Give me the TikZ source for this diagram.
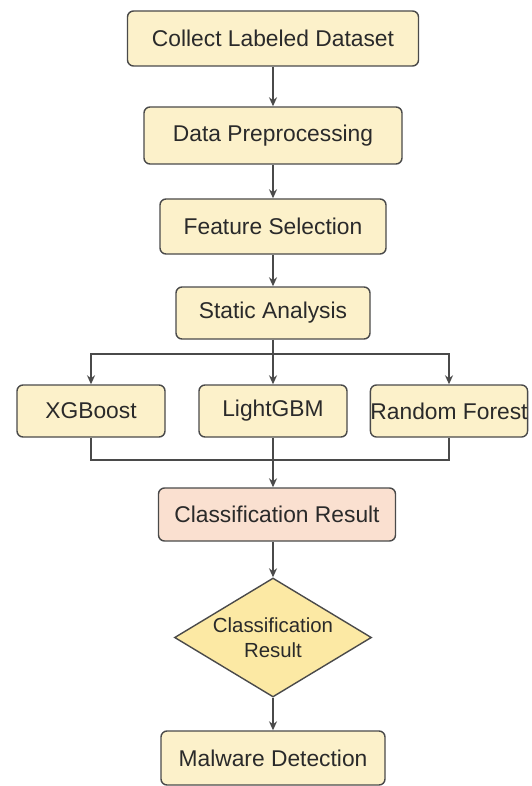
\documentclass[tikz,border=0pt]{standalone}
\usepackage{fontspec}
\setmainfont{Liberation Sans}
\usetikzlibrary{arrows.meta,shapes.geometric}
\definecolor{boxfill}{HTML}{FCF1CA}
\definecolor{peach}{HTML}{FAE0D0}
\definecolor{dfill}{HTML}{FCE9A4}
\definecolor{edge}{HTML}{4A4A4A}
\definecolor{txt}{HTML}{2A2A2A}
\tikzset{
  stepbox/.style={draw=edge, line width=1.4pt, fill=boxfill, rounded corners=6pt,
    inner sep=0pt, text=txt, font=\fontsize{22.8}{26}\selectfont},
  peachbox/.style={stepbox, fill=peach},
  decision/.style={diamond, draw=edge, line width=1.4pt, fill=dfill, inner sep=0pt,
    text=txt, font=\fontsize{20.4}{25}\selectfont, align=center, aspect=1.65},
  conn/.style={draw=edge, line width=1.4pt},
  arr/.style={conn, -{Stealth[length=9pt,width=8pt]}}
}
\begin{document}
\begin{tikzpicture}[x=1pt,y=-1pt]
\useasboundingbox (0,0) rectangle (531,786);
\node[stepbox, minimum width=291pt, minimum height=55pt] (c1) at (273,38.5) {Collect Labeled Dataset};
\node[stepbox, minimum width=258pt, minimum height=57pt] (c2) at (273,135.5) {Data Preprocessing};
\node[stepbox, minimum width=226pt, minimum height=55pt] (c3) at (273,226.5) {Feature Selection};
\node[stepbox, minimum width=194pt, minimum height=52pt] (c4) at (273,313) {Static Analysis};
\node[stepbox, minimum width=148pt, minimum height=52pt] (x1) at (91,411) {XGBoost};
\node[stepbox, minimum width=148pt, minimum height=52pt] (x2) at (273,411) {LightGBM};
\node[stepbox, minimum width=150pt, minimum height=52pt] (x3) at (449,411) {Random Forest};
\node[peachbox, minimum width=237pt, minimum height=53pt] (c5) at (277,514.5) {Classification Result};
\node[decision, minimum width=197pt, minimum height=119pt] (d) at (273,637.5) {Classification\\Result};
\node[stepbox, minimum width=224pt, minimum height=54pt] (c6) at (273,758) {Malware Detection};
\coordinate (split) at (273,354);
\coordinate (merge) at (273,460);
\draw[arr] (c1) -- (c2);
\draw[arr] (c2) -- (c3);
\draw[arr] (c3) -- (c4);
\draw[conn] (c4.south) -- (split);
\draw[arr] (split) -| (x1.north);
\draw[arr] (split) -| (x3.north);
\draw[arr] (split) -- (x2.north);
\draw[conn] (x1.south) |- (merge);
\draw[conn] (x3.south) |- (merge);
\draw[conn] (x2.south) -- (merge);
\draw[arr] (merge) -- (merge |- c5.north);
\draw[arr] (c5.south -| d.north) -- (d.north);
\draw[arr] (d.south) -- (c6.north);
\end{tikzpicture}
\end{document}
